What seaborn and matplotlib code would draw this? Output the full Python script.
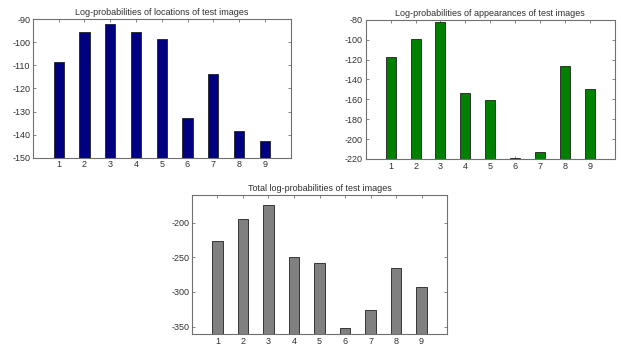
import matplotlib
matplotlib.use("Agg")
import matplotlib.pyplot as plt
import numpy as np
import pandas as pd
import seaborn as sns

# values
images = [1, 2, 3, 4, 5, 6, 7, 8, 9]
loc_logp = [-108.6, -95.3, -91.9, -95.6, -98.3, -132.9, -113.7, -138.3, -142.7]
app_logp = [-117.2, -99.1, -82.7, -153.8, -160.5, -218.6, -212.9, -127.0, -149.5]
total_logp = [-225.8, -194.4, -174.6, -249.4, -258.8, -351.5, -326.6, -265.3, -292.2]

df = pd.DataFrame({"image": images, "loc": loc_logp, "app": app_logp, "total": total_logp})

sns.set_style("white")
plt.rcParams["font.family"] = ["Liberation Sans", "DejaVu Sans"]
plt.rcParams["font.size"] = 6.5
plt.rcParams["axes.unicode_minus"] = False

fig = plt.figure(figsize=(6.21, 3.47), dpi=100)

panels = [
    # column, colour, title, axes rect, ylim, yticks
    ("loc", "#000080", "Log-probabilities of locations of test images",
     [0.053, 0.546, 0.415, 0.398], (-150, -90), np.arange(-150, -89, 10)),
    ("app", "#008000", "Log-probabilities of appearances of test images",
     [0.589, 0.542, 0.401, 0.401], (-220, -80), np.arange(-220, -79, 20)),
    ("total", "#808080", "Total log-probabilities of test images",
     [0.309, 0.037, 0.411, 0.401], (-361, -160), np.arange(-350, -199, 50)),
]

for col, color, title, rect, ylim, yticks in panels:
    ax = fig.add_axes(rect)
    # bars grow up from the bottom of the axis, like matlab's bar()
    base = ylim[0] - 5
    df["h"] = df[col] - base
    sns.barplot(data=df, x="image", y="h", native_scale=True, width=0.4,
                color=color, saturation=1, edgecolor="#202020", linewidth=0.6,
                bottom=base, ax=ax)
    ax.set_xlim(0, 10)
    ax.set_ylim(*ylim)
    ax.set_xticks(images)
    ax.set_yticks(yticks)
    ax.set_xlabel("")
    ax.set_ylabel("")
    ax.set_title(title, fontsize=6.5, color="#303030", pad=3)
    ax.tick_params(direction="in", length=2.5, width=0.6, colors="#707070",
                   labelcolor="#303030", labelsize=6.5, pad=2,
                   top=True, right=True, bottom=True, left=True)
    for s in ax.spines.values():
        s.set_visible(True)
        s.set_color("#707070")
        s.set_linewidth(0.8)

fig.savefig("out.png", dpi=100)
